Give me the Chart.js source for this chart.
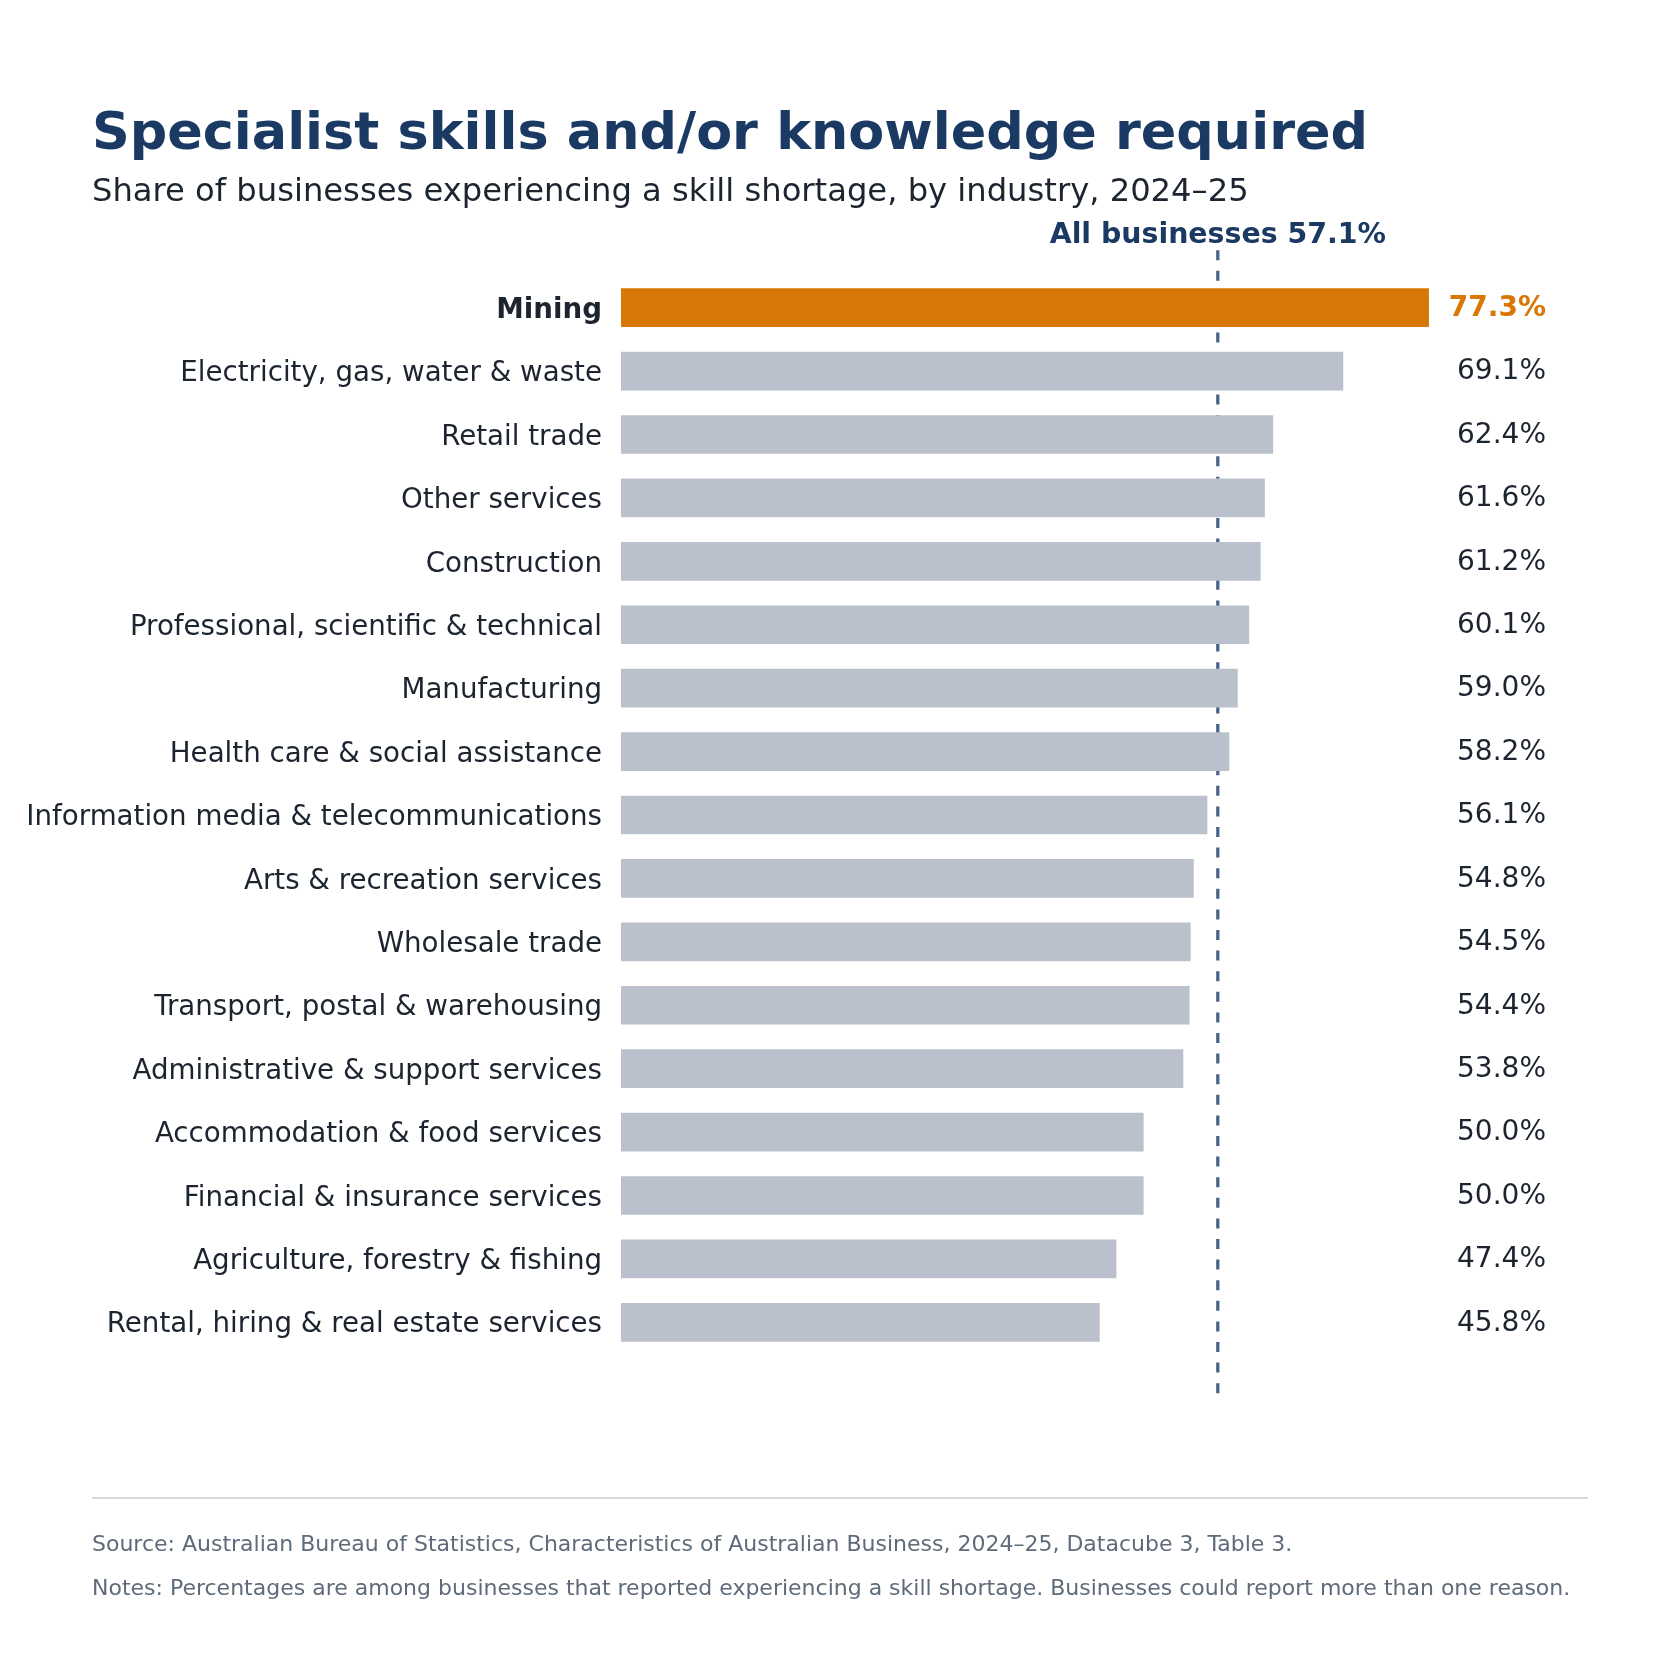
<!DOCTYPE html>
<html>
<head>
<meta charset="utf-8">
<script src="https://cdn.jsdelivr.net/npm/chart.js@4.4.1/dist/chart.umd.min.js"></script>
<style>
  html, body { margin: 0; padding: 0; background: #fff; }
  #wrap { position: relative; width: 1680px; height: 1680px; font-family: "DejaVu Sans", sans-serif; }
  #chart { position: absolute; left: 0; top: 0; }
  .txt { position: absolute; left: 92px; line-height: 1; white-space: nowrap; }
  #title { top: 105px; font-size: 52.4px; font-weight: bold; color: #1a3a63; }
  #subtitle { top: 174px; font-size: 32.2px; color: #1c2430; }
  #rule { position: absolute; left: 92px; top: 1497px; width: 1496px; height: 2px; background: #d5d8dc; }
  .foot { font-size: 22px; color: #5f6b7a; }
  #source { top: 1533px; }
  #notes { top: 1577px; }
</style>
</head>
<body>
<div id="wrap">
  <canvas id="chart" width="1680" height="1680"></canvas>
  <div class="txt" id="title">Specialist skills and/or knowledge required</div>
  <div class="txt" id="subtitle">Share of businesses experiencing a skill shortage, by industry, 2024–25</div>
  <div id="rule"></div>
  <div class="txt foot" id="source">Source: Australian Bureau of Statistics, Characteristics of Australian Business, 2024–25, Datacube 3, Table 3.</div>
  <div class="txt foot" id="notes">Notes: Percentages are among businesses that reported experiencing a skill shortage. Businesses could report more than one reason.</div>
</div>
<script>
// Industries, sorted from highest to lowest share
const industries = [
  'Mining',
  'Electricity, gas, water & waste',
  'Retail trade',
  'Other services',
  'Construction',
  'Professional, scientific & technical',
  'Manufacturing',
  'Health care & social assistance',
  'Information media & telecommunications',
  'Arts & recreation services',
  'Wholesale trade',
  'Transport, postal & warehousing',
  'Administrative & support services',
  'Accommodation & food services',
  'Financial & insurance services',
  'Agriculture, forestry & fishing',
  'Rental, hiring & real estate services'
];
const shares = [77.3, 69.1, 62.4, 61.6, 61.2, 60.1, 59.0, 58.2, 56.1, 54.8, 54.5, 54.4, 53.8, 50.0, 50.0, 47.4, 45.8];
const allBusinesses = 57.1;
const highlight = 'Mining';

const ORANGE = '#d97706';
const GREY = '#bac1cc';
const NAVY = '#1a3a63';
const INK = '#1c2430';

// dashed reference line + its label, drawn behind the bars
const refLine = {
  id: 'refLine',
  beforeDatasetsDraw(chart) {
    const { ctx, scales: { x, y } } = chart;
    const step = y.getPixelForValue(1) - y.getPixelForValue(0);
    const px = x.getPixelForValue(allBusinesses);
    const top = y.getPixelForValue(0) - step * 0.907;
    const bottom = y.getPixelForValue(industries.length - 1) + step * 1.12;
    ctx.save();
    ctx.strokeStyle = '#4a6488';
    ctx.lineWidth = 3.3;
    ctx.setLineDash([10, 10.6]);
    ctx.beginPath();
    ctx.moveTo(px, top);
    ctx.lineTo(px, bottom);
    ctx.stroke();
    ctx.setLineDash([]);
    ctx.fillStyle = NAVY;
    ctx.font = 'bold 28.4px "DejaVu Sans"';
    ctx.textAlign = 'center';
    ctx.textBaseline = 'alphabetic';
    ctx.fillText('All businesses ' + allBusinesses.toFixed(1) + '%', px, top - 7);
    ctx.restore();
  }
};

// value labels, right-aligned at the edge of the plot
const valueLabels = {
  id: 'valueLabels',
  afterDatasetsDraw(chart) {
    const { ctx, chartArea } = chart;
    const meta = chart.getDatasetMeta(0);
    ctx.save();
    ctx.textAlign = 'right';
    ctx.textBaseline = 'middle';
    meta.data.forEach((bar, i) => {
      const hot = industries[i] === highlight;
      ctx.font = (hot ? 'bold ' : '') + '28px "DejaVu Sans"';
      ctx.fillStyle = hot ? ORANGE : INK;
      ctx.fillText(shares[i].toFixed(1) + '%', chartArea.right, bar.y + 1);
    });
    ctx.restore();
  }
};

new Chart(document.getElementById('chart'), {
  type: 'bar',
  data: {
    labels: industries,
    datasets: [{
      data: shares,
      backgroundColor: industries.map(n => n === highlight ? ORANGE : GREY),
      barPercentage: 0.61,
      categoryPercentage: 1.0,
      borderWidth: 0
    }]
  },
  options: {
    indexAxis: 'y',
    responsive: false,
    animation: false,
    devicePixelRatio: 1,
    layout: { padding: { left: 0, right: 134, top: 276, bottom: 326 } },
    plugins: {
      legend: { display: false },
      tooltip: { enabled: false }
    },
    scales: {
      x: {
        display: false,
        min: 0,
        max: 88.5
      },
      y: {
        grid: { display: false, drawTicks: false },
        border: { display: false },
        afterFit(scale) { scale.width = 621; },
        ticks: {
          padding: 19,
          labelOffset: 3,
          color: INK,
          font: (c) => ({
            family: '"DejaVu Sans"',
            size: 27.7,
            weight: industries[c.index] === highlight ? 'bold' : 'normal'
          })
        }
      }
    }
  },
  plugins: [refLine, valueLabels]
});
</script>
</body>
</html>
